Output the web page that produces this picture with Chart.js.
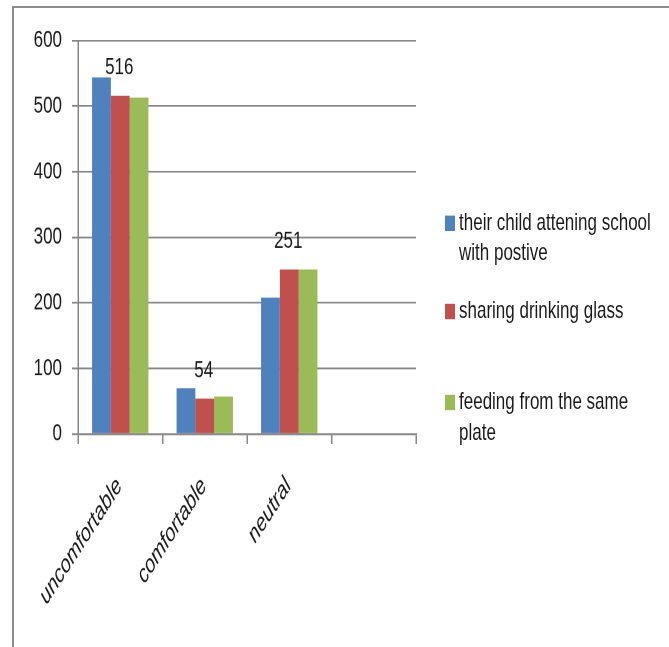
<!DOCTYPE html>
<html>
<head>
<meta charset="utf-8">
<script src="https://cdn.jsdelivr.net/npm/chart.js@4.4.1/dist/chart.umd.min.js"></script>
<style>
	body { margin: 0; background: #fff; }
	#page { position: relative; width: 669px; height: 647px; overflow: hidden; }
	#frame {
		position: absolute; left: 12px; top: 6px; width: 700px; height: 700px;
		border-top: 2px solid #8a8a8a; border-left: 2px solid #8a8a8a;
	}
	/* la imagen original está estirada en vertical */
	#stretch {
		position: absolute; left: 0; top: 0; width: 669px; height: 462px;
		transform: scaleY(1.4); transform-origin: 0 0;
	}
	canvas { position: absolute; left: 0; top: 0; }
	.leg { position: absolute; left: 445px; width: 222px; }
	.leg .box { position: absolute; left: 0; width: 10px; height: 10.5px; }
	.leg .txt {
		position: absolute; left: 14px; top: 0; width: 205px;
		font: 17px "Liberation Sans", Arial, sans-serif;
		line-height: 22px; color: #1a1a1a;
	}
</style>
</head>
<body>
<div id="page">
	<div id="frame"></div>
	<div id="stretch">
		<canvas id="chart" width="669" height="462" style="width:669px;height:462px"></canvas>
		<div id="legend"></div>
	</div>
</div>
<script>
const categories = ["uncomfortable", "comfortable", "neutral", ""];
const seriesNames = [
	"their child attening school with postive",
	"sharing drinking glass",
	"feeding from the same plate",
];
const schoolValues = [544, 70, 208, null];
const glassValues = [516, 54, 251, null];
const plateValues = [513, 57, 251, null];
const yTicks = [0, 100, 200, 300, 400, 500, 600];

const colors = ["#4f81bd", "#c0504d", "#9bbb59"];
const gridGray = "#868686";
const sans = "'Liberation Sans', Arial, sans-serif";

// etiquetas de valor sobre la serie roja
const valueLabels = {
	id: "valueLabels",
	afterDatasetsDraw(chart) {
		const { ctx } = chart;
		const meta = chart.getDatasetMeta(1);
		ctx.save();
		ctx.font = "17px " + sans;
		ctx.fillStyle = "#1a1a1a";
		ctx.textAlign = "center";
		ctx.textBaseline = "middle";
		meta.data.forEach((bar, i) => {
			const v = chart.data.datasets[1].data[i];
			if (v == null) return;
			ctx.fillText(String(v), bar.x - 1, bar.y - 20);
		});
		ctx.restore();
	},
};

const chart = new Chart(document.getElementById("chart"), {
	type: "bar",
	data: {
		labels: categories,
		datasets: [schoolValues, glassValues, plateValues].map((data, i) => ({
			label: seriesNames[i],
			data,
			backgroundColor: colors[i],
			categoryPercentage: 0.667,
			barPercentage: 1,
		})),
	},
	options: {
		responsive: false,
		animation: false,
		devicePixelRatio: 2,
		layout: { padding: { top: 29, right: 253, left: 0, bottom: 0 } },
		plugins: { legend: { display: false }, tooltip: { enabled: false } },
		scales: {
			x: {
				afterFit: (s) => { s.height = 152; },
				grid: {
					offset: true,
					drawOnChartArea: false,
					drawTicks: true,
					tickLength: 7,
					color: gridGray,
					lineWidth: 1.5,
				},
				border: { color: gridGray, width: 1.3 },
				ticks: {
					autoSkip: false,
					minRotation: 48,
					maxRotation: 48,
					padding: 20,
					labelOffset: -1,
					color: "#1a1a1a",
					font: { family: sans, size: 18, style: "italic" },
				},
			},
			y: {
				min: 0,
				max: 600,
				afterFit: (s) => { s.width = 78; },
				afterBuildTicks: (s) => { s.ticks = yTicks.map((value) => ({ value })); },
				grid: { color: gridGray, lineWidth: 1.3, tickLength: 6 },
				border: { color: gridGray, width: 1.5 },
				ticks: {
					padding: 10,
					color: "#1a1a1a",
					font: { family: sans, size: 17 },
				},
			},
		},
	},
	plugins: [valueLabels],
});

// leyenda en HTML a la derecha
const legendTops = [148, 211, 276];
const legendEl = document.getElementById("legend");
chart.data.datasets.forEach((ds, i) => {
	const item = document.createElement("div");
	item.className = "leg";
	item.style.top = legendTops[i] + "px";
	item.innerHTML =
		'<div class="box" style="top:6.4px;background:' + ds.backgroundColor + '"></div>' +
		'<div class="txt">' + ds.label + "</div>";
	legendEl.appendChild(item);
});
</script>
</body>
</html>
